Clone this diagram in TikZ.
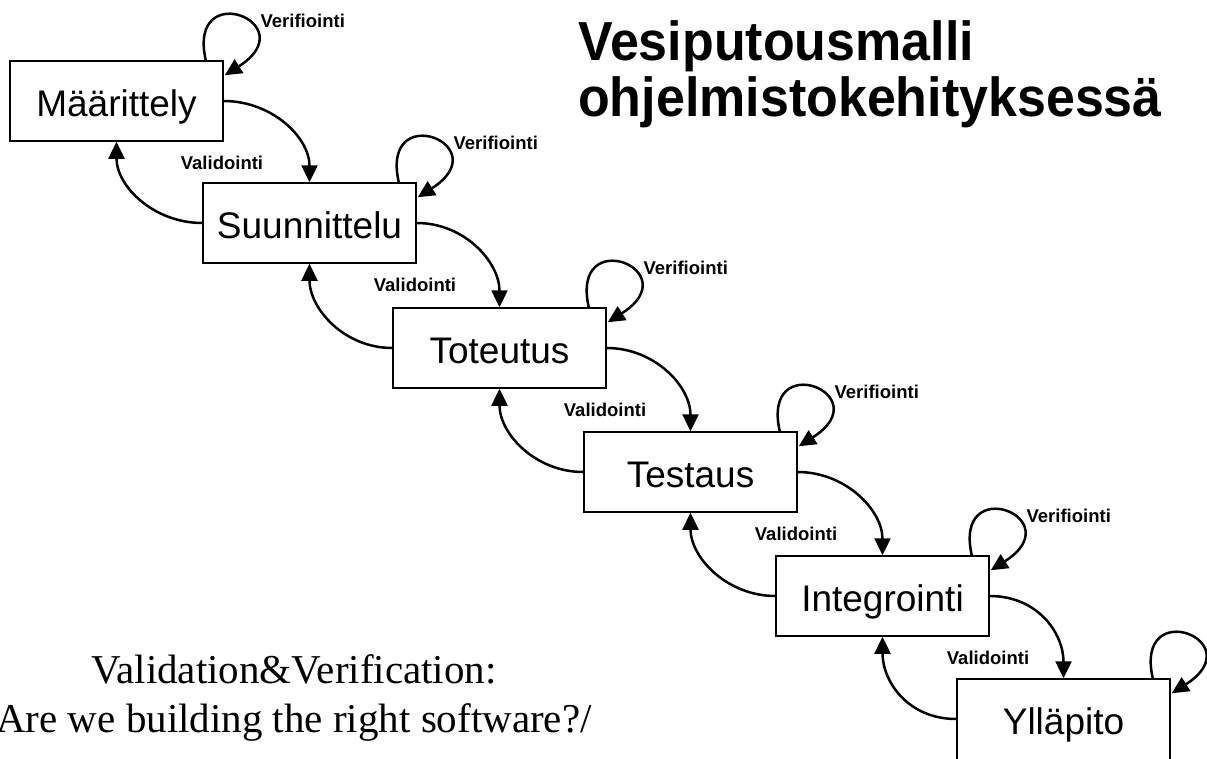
\documentclass[tikz,border=0pt]{standalone}
\usepackage{fontspec}
\setmainfont{Liberation Sans}
\newfontfamily\timesfont{Liberation Serif}
\usetikzlibrary{arrows.meta}

\begin{document}
\begin{tikzpicture}[x=1pt,y=-1pt,
  phase/.style={draw, line width=1.5pt, minimum width=213pt, minimum height=80pt,
    inner sep=0pt, text height=30pt, text depth=0pt,
    font=\fontsize{37}{44}\selectfont},
  flow/.style={line width=2.5pt, -{Triangle[length=17pt,width=16pt]}},
  tag/.style={font=\bfseries\fontsize{18.5}{22}\selectfont, inner sep=0pt},
  heading/.style={anchor=base west, inner sep=0pt,
    font=\bfseries\fontsize{55}{58}\selectfont},
  caption/.style={anchor=base, inner sep=0pt,
    font=\timesfont\fontsize{41}{48}\selectfont},
]
\useasboundingbox (0,0) rectangle (1207,758);
\clip (0,0) rectangle (1207,758);

% phases of the waterfall
\node[phase] (m)  at (116.5,101) {Määrittely};
\node[phase] (s)  at (309.5,223) {Suunnittelu};
\node[phase] (t)  at (499.5,348) {Toteutus};
\node[phase] (te) at (690.5,472) {Testaus};
\node[phase] (i)  at (882.5,596) {Integrointi};
% the last box runs past the lower edge of the page
\node[phase, minimum height=86pt, text height=24pt] (y) at (1063.5,722) {Ylläpito};

% title
\node[heading] (t1) at (578,60)  {\scalebox{0.945}[1]{Vesiputousmalli}};
\node[heading] (t2) at (578,116) {\scalebox{0.945}[1]{ohjelmistokehityksessä}};

% caption
\node[caption] (c1) at (294,683) {Validation\&Verification:};
\node[caption] (c2) at (294,732) {Are we building the right software?/};

% forward flow and validation feedback between consecutive phases
\foreach \a/\b in {m/s, s/t, t/te, te/i} {
  \draw[flow] (\a.east) .. controls +(48,0) and +(0,-45) .. (\b.north);
  \draw[flow] (\b.west) .. controls +(-48,0) and +(0,45) .. (\a.south);
  \node[tag] (val-\a) at ([xshift=105.5pt,yshift=-62pt]\a.center) {Validointi};
}
\draw[flow] (i.east) .. controls +(48,0) and +(0,-45) .. (y.north);
\draw[flow] ([yshift=3pt]y.west) .. controls +(-48,0) and +(0,45) .. (i.south);
\node[tag] (val-i) at ([xshift=105.5pt,yshift=-62pt]i.center) {Validointi};

% verification self-loops
\foreach \a in {m, s, t, te, i, y} {
  \draw[flow] ([xshift=-18pt]\a.north east)
    .. controls +(-19,-84) and +(82,-52) ..
    ([xshift=1pt,yshift=-15pt]\a.north east);
}
\foreach \a in {m, s, t, te, i} {
  \node[tag] (ver-\a) at ([xshift=79pt,yshift=39pt]\a.north east) {Verifiointi};
}
\end{tikzpicture}
\end{document}
